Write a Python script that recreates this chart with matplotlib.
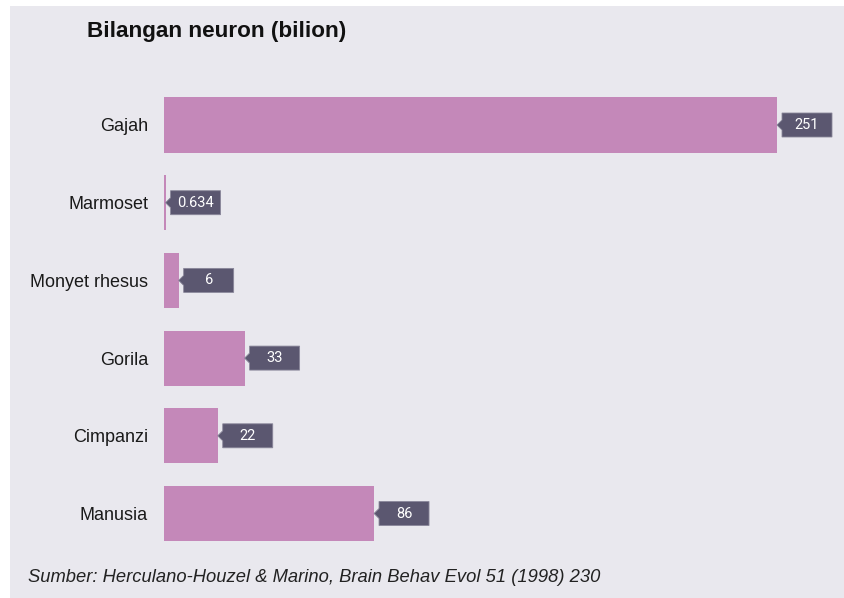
import matplotlib
matplotlib.use("Agg")
import matplotlib.pyplot as plt
import matplotlib.patches as mpatches
import matplotlib.transforms as mtransforms

# Neuron counts (billions)
categories = ["Gajah", "Marmoset", "Monyet rhesus", "Gorila", "Cimpanzi", "Manusia"]
values = [251, 0.634, 6, 33, 22, 86]
value_labels = ["251", "0.634", "6", "33", "22", "86"]

title = "Bilangan neuron (bilion)"
source = "Sumber: Herculano-Houzel & Marino, Brain Behav Evol 51 (1998) 230"

BG = "#E9E8EE"
BAR = "#C488B9"
TAG = "#5B5770"

W, H = 844, 598
fig = plt.figure(figsize=(W / 100, H / 100), dpi=100)
fig.patch.set_facecolor("white")
fig.patches.append(mpatches.Rectangle((10 / W, 0), 1 - 10 / W, 1 - 6 / H,
                                      transform=fig.transFigure,
                                      facecolor=BG, edgecolor="none", zorder=-10))

ax_left, ax_right = 164, 777
ax_top, ax_bot = 86.15, 552.35
ax = fig.add_axes([ax_left / W, 1 - ax_bot / H, (ax_right - ax_left) / W, (ax_bot - ax_top) / H])
ax.set_facecolor("none")

ypos = list(range(len(categories)))
ax.barh(ypos, values, height=0.708, color=BAR, edgecolor="none")
ax.set_xlim(0, 251)
ax.set_ylim(len(categories) - 0.5, -0.5)
ax.set_yticks(ypos)
ax.set_yticklabels(categories, family=["Liberation Sans", "DejaVu Sans"], fontsize=13, color="#1a1a1a")
ax.tick_params(axis="y", length=0, pad=11.5)
ax.set_xticks([])
for s in ax.spines.values():
    s.set_visible(False)

# Value tags: a box with a small pointer at the end of each bar
px = 1 / 100
for y, v, lab in zip(ypos, values, value_labels):
    tr = fig.dpi_scale_trans + mtransforms.ScaledTranslation(v, y, ax.transData)
    verts = [(0, 0), (5 * px, 5 * px), (5 * px, 12 * px), (55 * px, 12 * px),
             (55 * px, -12 * px), (5 * px, -12 * px), (5 * px, -5 * px)]
    poly = mpatches.Polygon(verts, closed=True, transform=tr, facecolor=TAG,
                            edgecolor="#8a879a", linewidth=0.6, clip_on=False, zorder=5)
    ax.add_patch(poly)
    ax.text(30 * px, 0, lab, transform=tr, ha="center", va="center", color="white",
            fontsize=10.5, family=["Roboto", "DejaVu Sans"], zorder=6, clip_on=False)

fig.text(87 / W, 1 - 32 / H, title, ha="left", va="center", fontsize=16.2,
         fontweight="bold", family=["Liberation Sans", "DejaVu Sans"], color="#111111")
fig.text(28 / W, 1 - 578 / H, source, ha="left", va="center", fontsize=13.2,
         style="italic", family=["Liberation Sans", "DejaVu Sans"], color="#222222")

fig.savefig("out.png", dpi=100, facecolor=fig.get_facecolor())
